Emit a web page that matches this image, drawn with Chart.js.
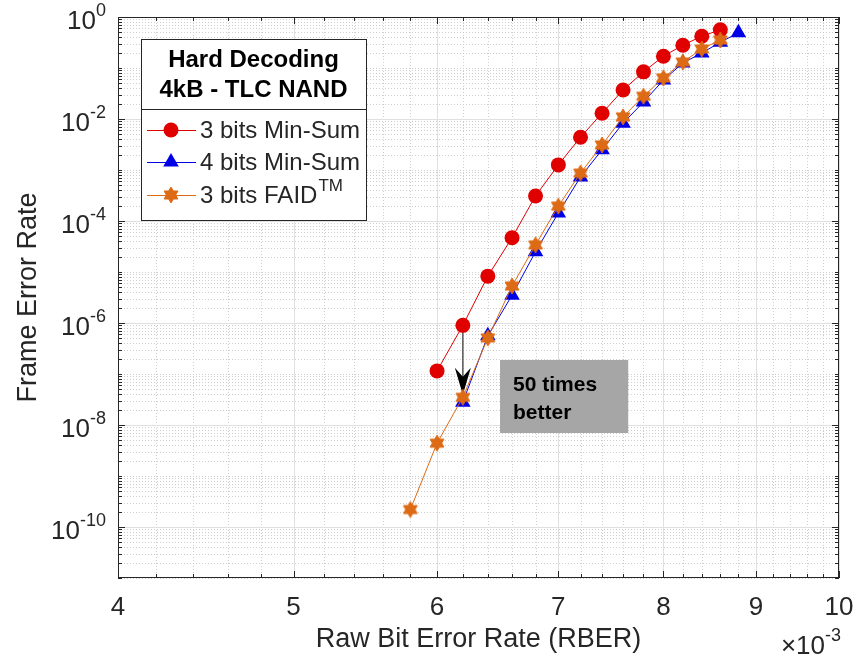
<!DOCTYPE html>
<html>
<head>
<meta charset="utf-8">
<script src="https://cdn.jsdelivr.net/npm/chart.js@4.4.0/dist/chart.umd.min.js"></script>
<style>
    html, body { margin: 0; padding: 0; background: #fff; }
    #wrap { width: 864px; height: 660px; }
</style>
</head>
<body>
<div id="wrap"><canvas id="ferChart"></canvas></div>
<script>
// RBER values are in units of 1e-3
const rberMinSum3 = [6.0, 6.2, 6.4, 6.6, 6.8, 7.0, 7.2, 7.4, 7.6, 7.8, 8.0, 8.2, 8.4, 8.6];
const ferMinSum3 = [1.15e-7, 9e-7, 8.3e-6, 4.7e-5, 3.1e-4, 1.26e-3, 4.4e-3, 1.3e-2, 3.7e-2, 8.4e-2, 0.17, 0.28, 0.42, 0.56];

const rberMinSum4 = [6.2, 6.4, 6.6, 6.8, 7.0, 7.2, 7.4, 7.6, 7.8, 8.0, 8.2, 8.4, 8.6, 8.8];
const ferMinSum4 = [2.8e-8, 5.6e-7, 3.5e-6, 2.5e-5, 1.44e-4, 7.3e-4, 2.5e-3, 8.3e-3, 2.15e-2, 5.8e-2, 0.125, 0.197, 0.32, 0.49];

const rberFaid3 = [5.8, 6.0, 6.2, 6.4, 6.6, 6.8, 7.0, 7.2, 7.4, 7.6, 7.8, 8.0, 8.2, 8.4, 8.6];
const ferFaid3 = [2.2e-10, 4.4e-9, 3.5e-8, 5.1e-7, 5.3e-6, 3.4e-5, 1.96e-4, 8.7e-4, 3.1e-3, 1.1e-2, 2.8e-2, 6.4e-2, 0.131, 0.236, 0.354];

const seriesLabels = ['3 bits Min-Sum', '4 bits Min-Sum', '3 bits FAID'];
const legendTitle = ['Hard Decoding', '4kB - TLC NAND'];
const xTickValues = [4, 5, 6, 7, 8, 9, 10];
const yTickExponents = [-10, -8, -6, -4, -2, 0];

// annotation: arrow from the 3-bit Min-Sum point down to the FAID point
const arrowFrom = [6.2, 9e-7];
const arrowTo = [6.2, 3.9e-8];
const noteText = ['50 times', 'better'];
const noteBox = { x0: 6.5, x1: 7.65, yTop: 1.88e-7, yBottom: 6.97e-9 };

const FONT = '"Liberation Sans", Arial, Helvetica, sans-serif';
const TEXT = '#262626';
const RED = '#E00000';
const BLUE = '#0000E6';
const ORANGE = '#DD6A15';

function pairs(xs, ys) {
    return xs.map((v, i) => ({ x: v, y: ys[i] }));
}

// MATLAB style hexagram marker
function makeHexagram(r, color) {
    const c = document.createElement('canvas');
    const s = Math.ceil(r * 2 + 2);
    c.width = s;
    c.height = s;
    const g = c.getContext('2d');
    const cx = s / 2, cy = s / 2;
    g.beginPath();
    for (let k = 0; k < 12; k++) {
        const rad = k % 2 === 0 ? r : r * 0.58;
        const ang = -Math.PI / 2 + k * Math.PI / 6;
        const px = cx + rad * Math.cos(ang);
        const py = cy + rad * Math.sin(ang);
        if (k === 0) g.moveTo(px, py); else g.lineTo(px, py);
    }
    g.closePath();
    g.fillStyle = color;
    g.fill();
    g.strokeStyle = color;
    g.lineWidth = 1;
    g.stroke();
    return c;
}
const hexagram = makeHexagram(8, ORANGE);

// tick positions for grid
const xMinor = [];
for (let k = 20; k <= 50; k++) {
    const v = k / 5;
    if (v % 1 !== 0) xMinor.push(v);
}
const yMajor = yTickExponents.map(e => Math.pow(10, e));
const yMinor = [];
for (let e = -11; e <= -1; e++) {
    for (let m = 1; m <= 9; m++) {
        if (m === 1 && yTickExponents.includes(e)) continue;
        yMinor.push(m * Math.pow(10, e));
    }
}

function hLine(ctx, x0, x1, y) {
    ctx.beginPath(); ctx.moveTo(x0, y); ctx.lineTo(x1, y); ctx.stroke();
}
function vLine(ctx, x, y0, y1) {
    ctx.beginPath(); ctx.moveTo(x, y0); ctx.lineTo(x, y1); ctx.stroke();
}

// draws "10" with a raised exponent; align is 'right' or 'left'
function drawPower(ctx, base, exp, x, y, baseSize, expSize, align) {
    ctx.font = baseSize + 'px ' + FONT;
    const wb = ctx.measureText(base).width;
    ctx.font = expSize + 'px ' + FONT;
    const we = ctx.measureText(exp).width;
    let left = align === 'right' ? x - wb - we : x;
    ctx.textAlign = 'left';
    ctx.textBaseline = 'middle';
    ctx.font = baseSize + 'px ' + FONT;
    ctx.fillText(base, left, y);
    ctx.font = expSize + 'px ' + FONT;
    ctx.fillText(exp, left + wb, y - baseSize * 0.42);
}

function drawMarker(ctx, style, x, y) {
    if (style === 'circle') {
        ctx.beginPath();
        ctx.arc(x, y, 7.5, 0, Math.PI * 2);
        ctx.fillStyle = RED;
        ctx.fill();
    } else if (style === 'triangle') {
        const r = 9;
        ctx.beginPath();
        ctx.moveTo(x, y - r);
        ctx.lineTo(x + r * 0.866, y + r * 0.5);
        ctx.lineTo(x - r * 0.866, y + r * 0.5);
        ctx.closePath();
        ctx.fillStyle = BLUE;
        ctx.fill();
    } else {
        ctx.drawImage(hexagram, x - hexagram.width / 2, y - hexagram.height / 2);
    }
}

const matlabAxes = {
    id: 'matlabAxes',
    beforeDatasetsDraw(chart) {
        const { ctx, chartArea: a, scales: { x, y } } = chart;
        ctx.save();
        ctx.lineWidth = 1;

        // minor grid (dotted)
        ctx.strokeStyle = '#cfcfcf';
        ctx.setLineDash([1, 2]);
        xMinor.forEach(v => vLine(ctx, Math.round(x.getPixelForValue(v)) + 0.5, a.top, a.bottom));
        yMinor.forEach(v => hLine(ctx, a.left, a.right, Math.round(y.getPixelForValue(v)) + 0.5));

        // major grid (solid)
        ctx.setLineDash([]);
        ctx.strokeStyle = '#e0e0e0';
        xTickValues.forEach(v => vLine(ctx, Math.round(x.getPixelForValue(v)) + 0.5, a.top, a.bottom));
        yMajor.forEach(v => hLine(ctx, a.left, a.right, Math.round(y.getPixelForValue(v)) + 0.5));

        // arrow
        const ax = x.getPixelForValue(arrowFrom[0]);
        const ay0 = y.getPixelForValue(arrowFrom[1]);
        const ay1 = y.getPixelForValue(arrowTo[1]);
        ctx.strokeStyle = '#555555';
        ctx.lineWidth = 1.5;
        vLine(ctx, ax, ay0, ay1 - 12);
        ctx.fillStyle = '#000000';
        ctx.beginPath();
        ctx.moveTo(ax, ay1);
        ctx.lineTo(ax - 8, ay1 - 27);
        ctx.lineTo(ax, ay1 - 18);
        ctx.lineTo(ax + 8, ay1 - 27);
        ctx.closePath();
        ctx.fill();
        ctx.restore();
    },
    afterDatasetsDraw(chart) {
        const { ctx, chartArea: a, scales: { x, y } } = chart;
        ctx.save();

        // axes box
        ctx.strokeStyle = TEXT;
        ctx.lineWidth = 1;
        ctx.strokeRect(a.left + 0.5, a.top + 0.5, a.right - a.left - 1, a.bottom - a.top - 1);

        // inward tick marks on all four sides
        xTickValues.forEach(v => {
            const px = Math.round(x.getPixelForValue(v)) + 0.5;
            vLine(ctx, px, a.bottom, a.bottom - 7);
            vLine(ctx, px, a.top, a.top + 7);
        });
        xMinor.forEach(v => {
            const px = Math.round(x.getPixelForValue(v)) + 0.5;
            vLine(ctx, px, a.bottom, a.bottom - 4);
            vLine(ctx, px, a.top, a.top + 4);
        });
        yMajor.forEach(v => {
            const py = Math.round(y.getPixelForValue(v)) + 0.5;
            hLine(ctx, a.left, a.left + 7, py);
            hLine(ctx, a.right, a.right - 7, py);
        });
        yMinor.forEach(v => {
            const py = Math.round(y.getPixelForValue(v)) + 0.5;
            hLine(ctx, a.left, a.left + 4, py);
            hLine(ctx, a.right, a.right - 4, py);
        });

        // tick labels
        ctx.fillStyle = TEXT;
        ctx.font = '26px ' + FONT;
        ctx.textAlign = 'center';
        ctx.textBaseline = 'middle';
        xTickValues.forEach(v => ctx.fillText(String(v), x.getPixelForValue(v), a.bottom + 30));
        yTickExponents.forEach(e => {
            drawPower(ctx, '10', String(e), a.left - 12, y.getPixelForValue(Math.pow(10, e)) + 5, 26, 18, 'right');
        });
        drawPower(ctx, '\u00d710', '-3', a.right + 2, a.bottom + 69, 26, 18, 'right');

        // axis titles
        ctx.font = '27px ' + FONT;
        ctx.textAlign = 'center';
        ctx.fillText('Raw Bit Error Rate (RBER)', (a.left + a.right) / 2, a.bottom + 62);
        ctx.save();
        ctx.translate(29, (a.top + a.bottom) / 2);
        ctx.rotate(-Math.PI / 2);
        ctx.fillText('Frame Error Rate', 0, 0);
        ctx.restore();

        // note box
        const bx0 = x.getPixelForValue(noteBox.x0);
        const bx1 = x.getPixelForValue(noteBox.x1);
        const by0 = y.getPixelForValue(noteBox.yTop);
        const by1 = y.getPixelForValue(noteBox.yBottom);
        ctx.fillStyle = '#A6A6A6';
        ctx.fillRect(bx0, by0, bx1 - bx0, by1 - by0);
        ctx.fillStyle = '#000000';
        ctx.font = 'bold 21px ' + FONT;
        ctx.textAlign = 'left';
        ctx.textBaseline = 'alphabetic';
        ctx.fillText(noteText[0], bx0 + 13, by0 + 31);
        ctx.fillText(noteText[1], bx0 + 13, by0 + 59);

        // legend with title
        const L = { x0: 141, y0: 39, x1: 366, y1: 220, sep: 109 };
        ctx.fillStyle = '#ffffff';
        ctx.fillRect(L.x0, L.y0, L.x1 - L.x0, L.y1 - L.y0);
        ctx.strokeStyle = TEXT;
        ctx.lineWidth = 1;
        ctx.strokeRect(L.x0 + 0.5, L.y0 + 0.5, L.x1 - L.x0, L.y1 - L.y0);
        hLine(ctx, L.x0, L.x1, L.sep + 0.5);
        ctx.fillStyle = '#000000';
        ctx.font = 'bold 24px ' + FONT;
        ctx.textAlign = 'center';
        ctx.textBaseline = 'middle';
        ctx.fillText(legendTitle[0], (L.x0 + L.x1) / 2, 60);
        ctx.fillText(legendTitle[1], (L.x0 + L.x1) / 2, 90);

        const rowY = [130, 162, 195];
        chart.data.datasets.forEach(ds => {
            const ry = rowY[ds.legendRow];
            ctx.strokeStyle = ds.borderColor;
            ctx.lineWidth = 1;
            hLine(ctx, 147, 196, ry + 0.5);
            drawMarker(ctx, ds.markerName, 171, ry);
            ctx.fillStyle = TEXT;
            ctx.font = '24px ' + FONT;
            ctx.textAlign = 'left';
            ctx.textBaseline = 'middle';
            ctx.fillText(ds.label, 200, ry + 1);
            if (ds.superscript) {
                const w = ctx.measureText(ds.label).width;
                ctx.font = '17px ' + FONT;
                ctx.fillText(ds.superscript, 200 + w + 1, ry - 9);
            }
        });
        ctx.restore();
    }
};

const ctx = document.getElementById('ferChart');
new Chart(ctx.getContext('2d'), {
    type: 'line',
    data: {
        datasets: [{
            label: seriesLabels[2],
            superscript: 'TM',
            legendRow: 2,
            markerName: 'hexagram',
            data: pairs(rberFaid3, ferFaid3),
            borderColor: ORANGE,
            backgroundColor: ORANGE,
            borderWidth: 1,
            pointStyle: hexagram,
            order: 0
        }, {
            label: seriesLabels[1],
            legendRow: 1,
            markerName: 'triangle',
            data: pairs(rberMinSum4, ferMinSum4),
            borderColor: BLUE,
            backgroundColor: BLUE,
            borderWidth: 1,
            pointStyle: 'triangle',
            pointRadius: 9,
            pointBorderWidth: 0,
            order: 1
        }, {
            label: seriesLabels[0],
            legendRow: 0,
            markerName: 'circle',
            data: pairs(rberMinSum3, ferMinSum3),
            borderColor: RED,
            backgroundColor: RED,
            borderWidth: 1,
            pointStyle: 'circle',
            pointRadius: 7.5,
            pointBorderWidth: 0,
            order: 2
        }]
    },
    options: {
        responsive: true,
        maintainAspectRatio: false,
        animation: false,
        layout: {
            padding: { left: 118, right: 25, top: 17, bottom: 82 }
        },
        plugins: {
            legend: { display: false },
            tooltip: { enabled: false }
        },
        scales: {
            x: {
                type: 'logarithmic',
                min: 4,
                max: 10,
                display: false
            },
            y: {
                type: 'logarithmic',
                min: 1e-11,
                max: 1,
                display: false
            }
        }
    },
    plugins: [matlabAxes]
});
</script>
</body>
</html>
